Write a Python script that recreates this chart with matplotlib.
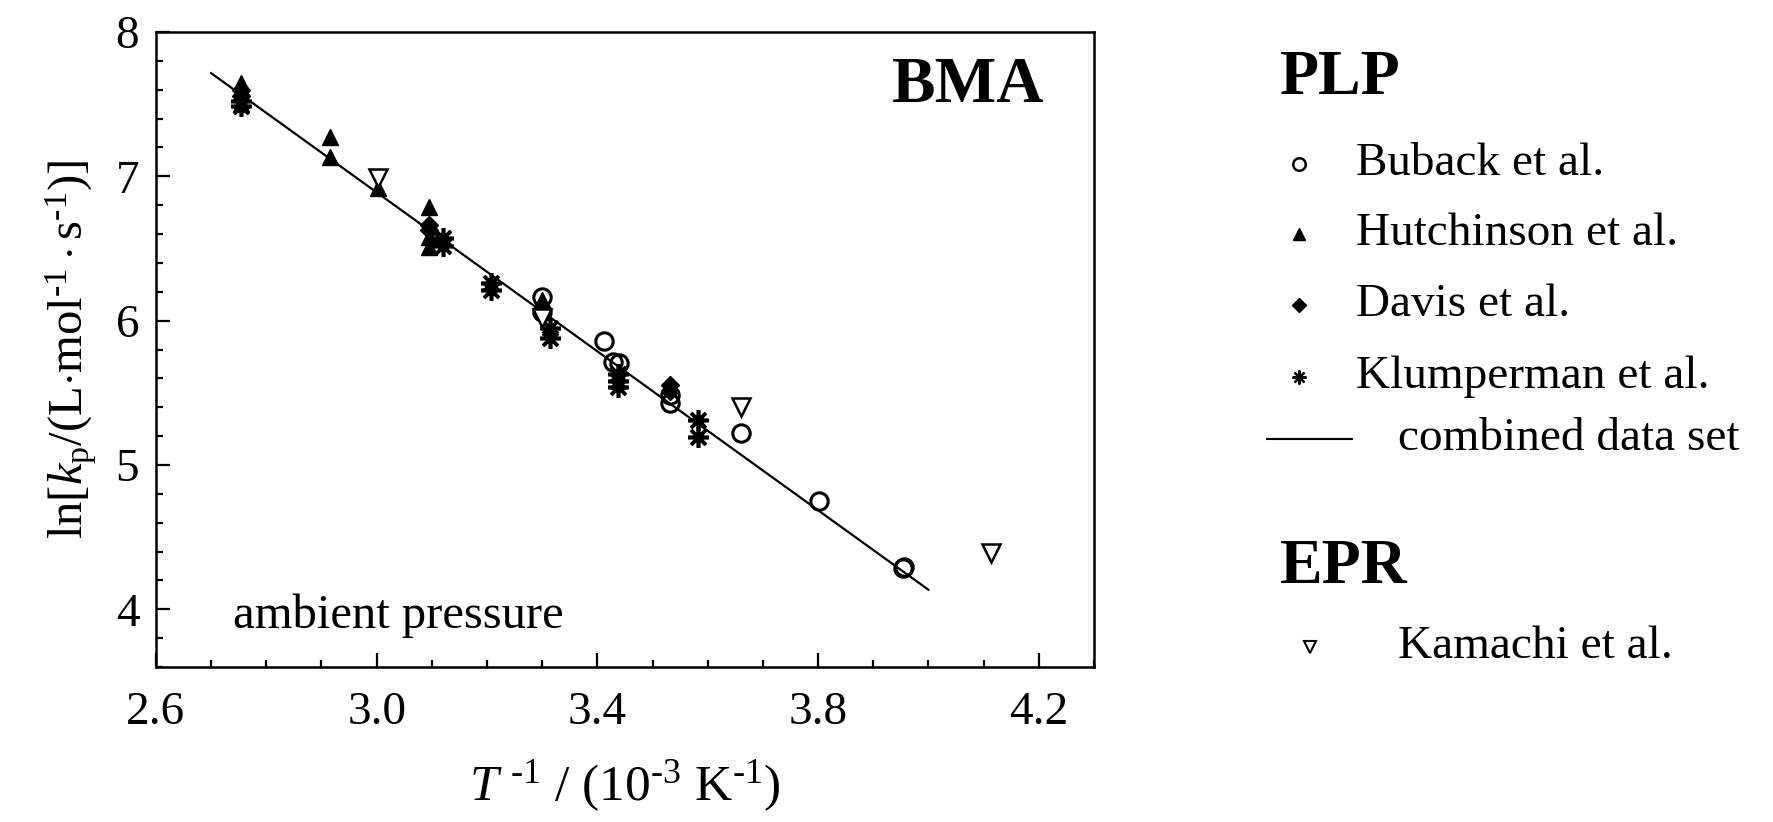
import matplotlib
matplotlib.use("Agg")
import matplotlib.pyplot as plt
from matplotlib.ticker import MultipleLocator
import numpy as np

plt.rcParams['font.family'] = ['Liberation Serif', 'DejaVu Serif']
plt.rcParams['mathtext.fontset'] = 'custom'
plt.rcParams['mathtext.rm'] = 'Liberation Serif'
plt.rcParams['mathtext.it'] = 'Liberation Serif:italic'

# 1/T in 10^-3 K^-1, ln kp
buback_x = [3.299, 3.299, 3.412, 3.429, 3.440, 3.531, 3.531, 3.661, 3.802, 3.953, 3.955]
buback_y = [6.166, 6.060, 5.860, 5.715, 5.705, 5.485, 5.430, 5.219, 4.752, 4.283, 4.292]

hutch_x = [2.755, 2.755, 2.915, 2.915, 3.003, 3.095, 3.095, 3.095, 3.299]
hutch_y = [7.650, 7.500, 7.274, 7.136, 6.917, 6.790, 6.580, 6.510, 6.140]

davis_x = [2.755, 2.755, 3.095, 3.095, 3.531, 3.531]
davis_y = [7.600, 7.560, 6.660, 6.630, 5.554, 5.510]

klump_x = [2.755, 2.755, 3.120, 3.120, 3.208, 3.208, 3.314, 3.314, 3.438, 3.438, 3.438, 3.583, 3.583]
klump_y = [7.520, 7.490, 6.570, 6.515, 6.260, 6.210, 5.950, 5.880, 5.630, 5.580, 5.540, 5.310, 5.195]

kamachi_x = [3.003, 3.300, 3.661, 4.114]
kamachi_y = [6.986, 6.016, 5.403, 4.392]

# combined fit: ln kp = ln A - (Ea/R)/T
lnA = 15.151
EaR = 2.754
fit_x = np.array([2.70, 4.00])

fig = plt.figure(figsize=(17.74, 8.22), dpi=100)
ax = fig.add_axes([0.0879, 0.1886, 0.5288, 0.7724])

ax.plot(fit_x, lnA - EaR * fit_x, color='black', lw=1.6, zorder=2)
ax.plot(buback_x, buback_y, 'o', ms=12.5, mfc='none', mec='black', mew=2.2, zorder=3)
ax.plot(hutch_x, hutch_y, '^', ms=11, color='black', zorder=3)
ax.plot(davis_x, davis_y, 'D', ms=9.5, color='black', zorder=3)
ax.plot(klump_x, klump_y, marker=(8, 2, 0), ls='none', ms=15, mec='black', mew=2.6, zorder=3)
ax.plot(kamachi_x, kamachi_y, 'v', ms=13, mfc='white', mec='black', mew=1.8, zorder=4)

ax.set_xlim(2.6, 4.3)
ax.set_ylim(3.6, 8.0)
ax.xaxis.set_major_locator(MultipleLocator(0.4))
ax.xaxis.set_minor_locator(MultipleLocator(0.1))
ax.yaxis.set_major_locator(MultipleLocator(1))
ax.yaxis.set_minor_locator(MultipleLocator(0.2))
ax.set_xticks([2.6, 3.0, 3.4, 3.8, 4.2])
ax.set_xticklabels(['2.6', '3.0', '3.4', '3.8', '4.2'])
ax.set_yticks([4, 5, 6, 7, 8])
ax.tick_params(which='both', direction='in', width=1.6, labelsize=34)
ax.tick_params(which='major', length=10)
ax.tick_params(which='minor', length=5)
ax.tick_params(axis='x', pad=18)
ax.tick_params(axis='y', pad=12)
for s in ax.spines.values():
    s.set_linewidth(1.8)

ax.set_xlabel(r'$T$ $^{\text{-}1}$ / (10$^{\text{-}3}$ K$^{\text{-}1}$)', fontsize=37, labelpad=17)
ax.set_ylabel(r'ln[$k_{\rm p}$/(L$\cdot$mol$^{\text{-}1}\cdot$s$^{\text{-}1}$)]', fontsize=35, labelpad=12)

ax.text(0.947, 0.915, 'BMA', transform=ax.transAxes, ha='right', va='center',
        fontsize=47, fontweight='bold')
ax.text(0.082, 0.08, 'ambient pressure', transform=ax.transAxes, ha='left',
        va='center', fontsize=35)

# legend panel drawn in figure pixel space
lg = fig.add_axes([0, 0, 1, 1], zorder=-1)
lg.set_xlim(0, 1774)
lg.set_ylim(822, 0)
lg.axis('off')

lg.text(1280, 79, 'PLP', fontsize=46, fontweight='bold', va='center')
lg.text(1280, 568, 'EPR', fontsize=46, fontweight='bold', va='center')

entries = [
    ('Buback et al.', dict(marker='o', ms=9, mfc='none', mec='black', mew=1.8)),
    ('Hutchinson et al.', dict(marker='^', ms=8, color='black')),
    ('Davis et al.', dict(marker='D', ms=7, color='black')),
    ('Klumperman et al.', dict(marker=(8, 2, 0), ms=10, mec='black', mew=1.6)),
]
row_y = [164, 234, 305, 377]
for (label, style), y in zip(entries, row_y):
    lg.plot([1299], [y], ls='none', **style)
    lg.text(1356, y, label, fontsize=34, va='center')

lg.plot([1267, 1352], [439, 439], color='black', lw=1.5)
lg.text(1398, 439, 'combined data set', fontsize=34, va='center')

lg.plot([1310], [647], 'v', ms=9, mfc='white', mec='black', mew=1.5)
lg.text(1398, 647, 'Kamachi et al.', fontsize=34, va='center')

fig.savefig('out.png', dpi=100)
